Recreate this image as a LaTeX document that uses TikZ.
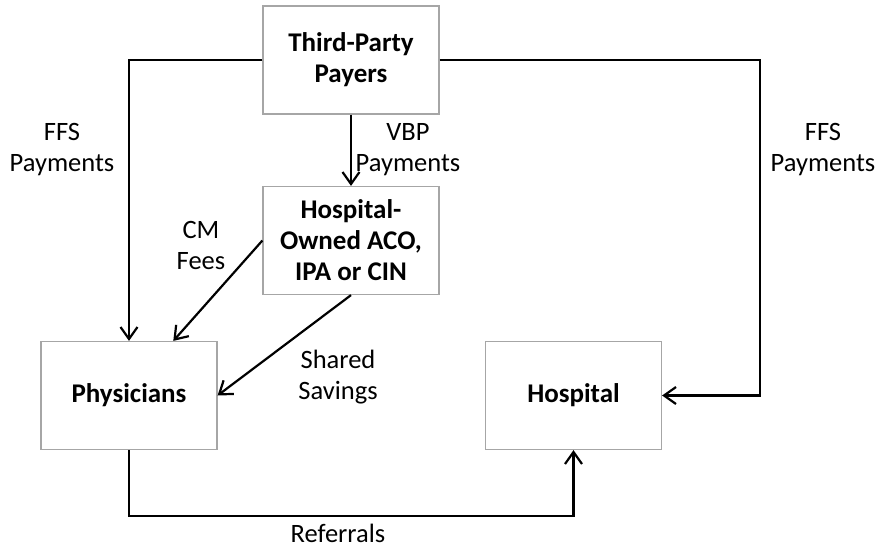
\documentclass[tikz,border=0pt]{standalone}
\usepackage{fontspec}
\setmainfont{Carlito}
\usetikzlibrary{arrows.meta,calc}
\tikzset{
  box/.style={draw={rgb,255:red,166;green,166;blue,166}, line width=1.2pt, minimum width=176pt, minimum height=108pt, inner sep=0pt, align=center, font=\fontsize{27}{31}\selectfont\bfseries},
  lbl/.style={inner sep=0pt, align=center, font=\fontsize{26.5}{31}\selectfont},
  conn/.style={line width=2.2pt, -{Straight Barb[length=12pt,width=17pt]}}
}
\begin{document}
\begin{tikzpicture}[x=1pt,y=-1pt]
\useasboundingbox (0,0) rectangle (878,547);
\node[box] (tpp) at (351,60) {Third-Party\\Payers};
\node[box] (ho) at (351,240.5) {Hospital-\\Owned ACO,\\IPA or CIN};
\node[box] (phys) at (129,395.5) {Physicians};
\node[box] (hosp) at (573.5,395.5) {Hospital};
\coordinate (r) at (760,60);
\draw[conn] (tpp.west) -| (phys.north);
\draw[conn] (tpp.east) -- (r) |- (hosp.east);
\draw[conn] (tpp.south) -- (ho.north);
\draw[conn] (ho.west) -- ($(phys.north west)!0.75!(phys.north east)$);
\draw[conn] (ho.south) -- (phys.east);
\draw[conn] (phys.south) -- ++(0,66) -| (hosp.south);
\node[lbl] (l1) at (62,150) {FFS\\Payments};
\node[lbl] (l2) at (823,150) {FFS\\Payments};
\node[lbl] (l3) at (408,150) {VBP\\Payments};
\node[lbl] (l4) at (201,245) {CM\\Fees};
\node[lbl] (l5) at (338,377) {Shared\\Savings};
\node[lbl] (l6) at (338,533) {Referrals};
\end{tikzpicture}
\end{document}
